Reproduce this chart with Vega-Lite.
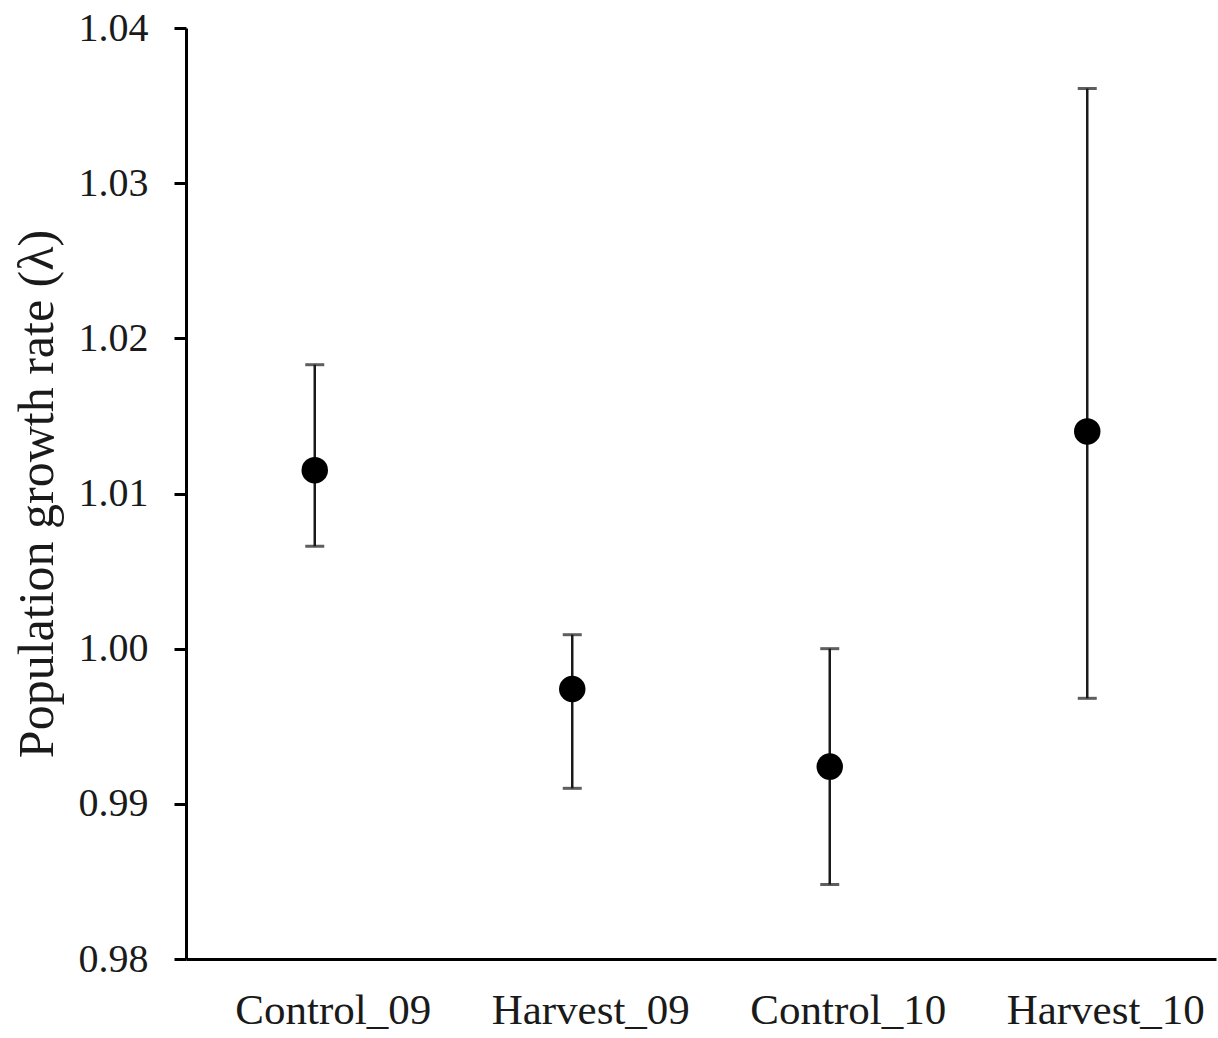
{
  "$schema": "https://vega.github.io/schema/vega-lite/v6.json",
  "width": 1030,
  "height": 931,
  "autosize": {"type": "none"},
  "padding": {"left": 186, "top": 28, "right": 2, "bottom": 79},
  "background": "white",
  "config": {
    "view": {"stroke": null},
    "font": "Liberation Serif",
    "axis": {"labelFont": "Liberation Serif", "titleFont": "Liberation Serif", "labelColor": "#1a1a1a", "titleColor": "#1a1a1a", "grid": false, "domainColor": "black", "tickColor": "black"}
  },
  "data": {
    "values": [
      {"group": "Control_09", "lambda": 1.0115, "lo": 1.0066, "hi": 1.0183},
      {"group": "Harvest_09", "lambda": 0.9974, "lo": 0.9910, "hi": 1.0009},
      {"group": "Control_10", "lambda": 0.9924, "lo": 0.9848, "hi": 1.0000},
      {"group": "Harvest_10", "lambda": 1.0140, "lo": 0.9968, "hi": 1.0361}
    ]
  },
  "encoding": {
    "x": {
      "field": "group", "type": "nominal", "sort": null,
      "scale": {"type": "point", "padding": 0.5},
      "axis": {"title": null, "labelAngle": 0, "labelFontSize": 43, "labelPadding": 30, "labelOffset": 18, "labelLimit": 0, "ticks": false, "domainWidth": 3}
    }
  },
  "layer": [
    {
      "mark": {"type": "rule", "color": "#1a1a1a", "strokeWidth": 2.5},
      "encoding": {
        "y": {"field": "lo", "type": "quantitative",
          "scale": {"domain": [0.98, 1.04], "nice": false, "zero": false},
          "axis": {"title": "Population growth rate (λ)", "titleFontSize": 50, "titleFontWeight": "normal", "titlePadding": 16, "labelFontSize": 40, "labelPadding": 26, "tickSize": 12, "tickWidth": 3, "domainWidth": 3, "values": [0.98, 0.99, 1.0, 1.01, 1.02, 1.03, 1.04], "format": ".2f"}},
        "y2": {"field": "hi"}
      }
    },
    {
      "mark": {"type": "tick", "color": "#1a1a1a", "thickness": 3, "size": 19},
      "encoding": {"y": {"field": "lo", "type": "quantitative"}}
    },
    {
      "mark": {"type": "tick", "color": "#1a1a1a", "thickness": 3, "size": 19},
      "encoding": {"y": {"field": "hi", "type": "quantitative"}}
    },
    {
      "mark": {"type": "circle", "color": "black", "opacity": 1, "size": 700},
      "encoding": {"y": {"field": "lambda", "type": "quantitative"}}
    }
  ]
}
